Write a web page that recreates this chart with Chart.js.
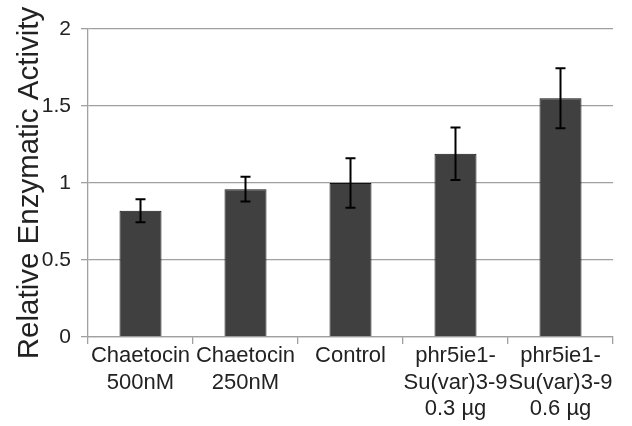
<!DOCTYPE html>
<html>
<head>
<meta charset="utf-8">
<script src="https://cdn.jsdelivr.net/npm/chart.js@4/dist/chart.umd.min.js"></script>
<style>
  body { margin: 0; background: #fff; }
  canvas { display: block; }
</style>
</head>
<body>
<canvas id="chart" width="632" height="426"></canvas>
<script>
var labels = [
    ['Chaetocin', '500nM'],
    ['Chaetocin', '250nM'],
    'Control',
    ['phr5ie1-', 'Su(var)3-9', '0.3 µg'],
    ['phr5ie1-', 'Su(var)3-9', '0.6 µg']
];
var activity = [0.82, 0.96, 1.0, 1.19, 1.55];
var errors = [0.075, 0.08, 0.16, 0.17, 0.195];
var yTicks = [0, 0.5, 1, 1.5, 2];

// error bars drawn through the y scale
var errorBars = {
    id: 'errorBars',
    afterDatasetsDraw: function (chart) {
        var ctx = chart.ctx;
        var yScale = chart.scales.y;
        var meta = chart.getDatasetMeta(0);
        ctx.save();
        ctx.strokeStyle = '#000';
        ctx.lineWidth = 2;
        meta.data.forEach(function (bar, i) {
            var top = yScale.getPixelForValue(activity[i] + errors[i]);
            var bottom = yScale.getPixelForValue(activity[i] - errors[i]);
            var x = bar.x;
            ctx.beginPath();
            ctx.moveTo(x, top);
            ctx.lineTo(x, bottom);
            ctx.moveTo(x - 5, top);
            ctx.lineTo(x + 5, top);
            ctx.moveTo(x - 5, bottom);
            ctx.lineTo(x + 5, bottom);
            ctx.stroke();
        });
        ctx.restore();
    }
};

Chart.defaults.font.family = '"Liberation Sans", Arial, sans-serif';
Chart.defaults.color = '#222';

new Chart(document.getElementById('chart').getContext('2d'), {
    type: 'bar',
    data: {
        labels: labels,
        datasets: [{
            data: activity,
            backgroundColor: '#404040',
            borderColor: '#111',
            borderWidth: 1,
            barPercentage: 0.4,
            categoryPercentage: 1
        }]
    },
    options: {
        responsive: false,
        animation: false,
        layout: { padding: { top: 29, right: 19, left: 0, bottom: 0 } },
        plugins: {
            legend: { display: false },
            tooltip: { enabled: false }
        },
        scales: {
            x: {
                afterFit: function (scale) { scale.height = 89; },
                grid: {
                    drawOnChartArea: false,
                    color: '#a0a0a0',
                    lineWidth: 1.3,
                    tickLength: 7
                },
                border: { color: '#a0a0a0', width: 1.3 },
                ticks: {
                    autoSkip: false,
                    maxRotation: 0,
                    padding: -1,
                    color: '#222',
                    font: { size: 22 }
                }
            },
            y: {
                min: 0,
                max: 2,
                afterFit: function (scale) { scale.width = 88; },
                afterBuildTicks: function (scale) {
                    scale.ticks = yTicks.map(function (v) { return { value: v }; });
                },
                grid: {
                    color: '#a0a0a0',
                    lineWidth: 1.3,
                    tickLength: 7
                },
                border: { color: '#a0a0a0', width: 1.3 },
                ticks: {
                    padding: 10,
                    color: '#222',
                    font: { size: 21 },
                    callback: function (value) { return String(value); }
                },
                title: {
                    display: true,
                    text: 'Relative Enzymatic Activity',
                    color: '#222',
                    padding: { top: 12, bottom: 0 },
                    font: { size: 29.5 }
                }
            }
        }
    },
    plugins: [errorBars]
});
</script>
</body>
</html>
